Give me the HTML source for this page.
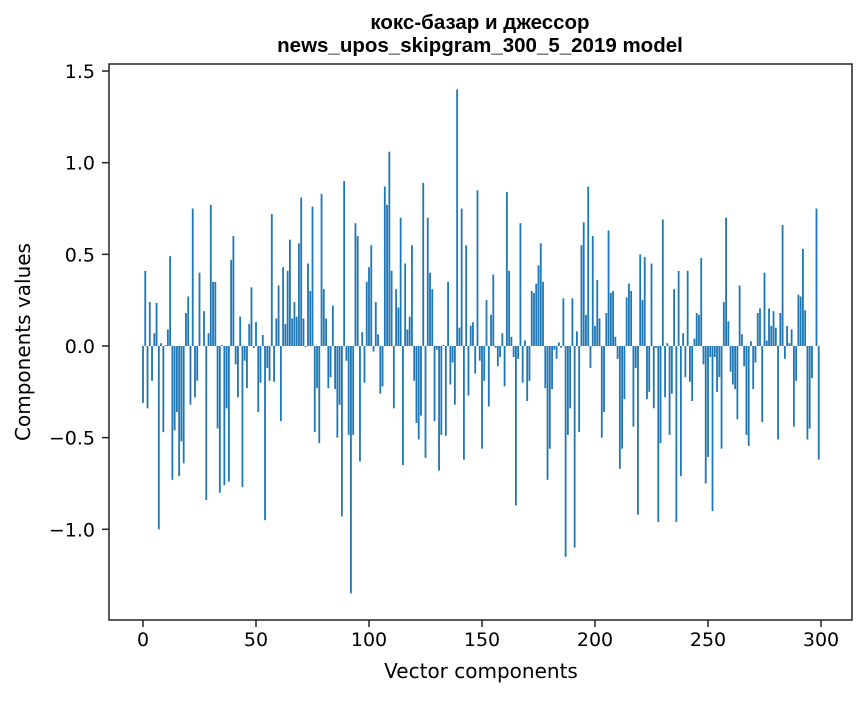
<!DOCTYPE html>
<html><head><meta charset="utf-8"><style>
body{margin:0;background:#fff;}
svg text{font-family:"DejaVu Sans","Liberation Sans",sans-serif;fill:#000;}
</style></head><body>
<svg id="chart" width="867" height="696" viewBox="0 0 867 696" xmlns="http://www.w3.org/2000/svg">
<rect width="867" height="696" fill="#fff"/>
<text x="480" y="29" font-size="20.5" font-weight="bold" text-anchor="middle" style="font-family:'Liberation Sans',sans-serif">кокс-базар и джессор</text>
<text x="480" y="52" font-size="20.5" font-weight="bold" text-anchor="middle" style="font-family:'Liberation Sans',sans-serif">news_upos_skipgram_300_5_2019 model</text>
<g id="bars"></g>
<g id="axes"></g>
<rect x="109" y="64" width="743" height="556" fill="none" stroke="#222" stroke-width="1.5"/>
<text x="481" y="678" font-size="20" text-anchor="middle">Vector components</text>
<text transform="translate(30,342) rotate(-90)" font-size="20" text-anchor="middle">Components values</text>
</svg>
<script>
const values = [
-0.31,0.41,-0.34,0.24,-0.19,0.07,0.235,-1.0,0.015,-0.47,
0.005,0.09,0.49,-0.73,-0.46,-0.36,-0.71,-0.52,-0.64,0.18,
0.27,-0.32,0.75,-0.28,-0.19,0.40,0,0.19,-0.84,0.07,
0.77,0.35,0.35,-0.45,-0.80,0.005,-0.76,-0.34,-0.74,0.47,
0.60,-0.10,-0.28,0.16,-0.77,-0.08,-0.23,0.12,0.32,-0.01,
0.13,-0.36,-0.20,0.06,-0.95,-0.12,-0.19,0.72,-0.195,0.15,
0.33,-0.41,0.43,0.12,0.41,0.58,0.15,0.24,0.16,0.56,
0.81,0.15,-0.005,0.45,0.30,0.76,-0.47,-0.23,-0.53,0.83,
0.31,0.15,-0.23,-0.17,0.22,-0.235,-0.50,-0.32,-0.93,0.90,
-0.08,-0.485,-1.35,-0.485,0.67,0.60,-0.63,0.075,-0.20,0.35,
0.43,0.55,-0.03,0.24,0.064,-0.26,-0.22,0.87,0.77,1.06,
0.41,-0.34,0.31,0.21,0.70,-0.65,0.45,0.09,0.16,0.55,
-0.19,-0.42,-0.51,-0.38,0.89,-0.61,0.70,0.40,0.31,-0.41,
-0.02,-0.68,-0.485,0.005,-0.49,0.35,-0.21,-0.09,-0.32,1.40,
0.10,0.75,-0.62,0.55,-0.27,0.11,0.13,-0.15,0.85,-0.08,
-0.56,-0.19,0.25,-0.33,0.17,0.39,-0.01,-0.11,-0.06,0.07,
-0.22,0.84,0.41,0.05,-0.06,-0.87,-0.07,0.67,-0.20,0.03,
-0.30,-0.19,0.30,0.29,0.34,0.44,0.56,0.35,-0.23,-0.73,
-0.56,-0.235,-0.02,-0.07,0.02,-0.01,0.26,-1.15,-0.485,-0.34,
0.26,-1.10,0.08,-0.47,0.55,0.675,0.17,0.87,-0.12,0.60,
0.11,0.36,0.15,-0.50,-0.36,0.18,0.63,0.29,0.30,0.05,
-0.07,-0.67,-0.56,-0.29,0.265,0.34,0.30,-0.44,-0.12,-0.92,
0.50,0.25,0.485,-0.29,-0.25,0.45,-0.34,-0.01,-0.96,-0.53,
0.69,-0.28,0.015,-0.485,-0.26,0.31,-0.96,0.41,-0.71,0.07,
-0.17,0.41,-0.195,-0.30,0.04,0.18,0.17,0.48,-0.10,-0.75,
-0.605,-0.06,-0.90,-0.06,-0.25,-0.17,-0.56,0.24,0.70,0.135,
-0.14,-0.21,-0.235,-0.40,0.33,0.064,-0.11,-0.485,-0.545,0.026,
-0.235,-0.09,0.18,0.205,-0.415,0.40,0.03,0.205,0.11,0.19,
0.10,-0.51,0.18,0.66,-0.07,0.11,0.015,0.09,-0.44,-0.19,
0.28,0.27,0.53,0.195,-0.51,-0.45,-0.175,0,0.75,-0.62
];
const xTicks = [0,50,100,150,200,250,300];
const yTicks = [-1.0,-0.5,0.0,0.5,1.0,1.5];
const yTickLabels = ["−1.0","−0.5","0.0","0.5","1.0","1.5"];

const NS="http://www.w3.org/2000/svg";
function xs(v){return 143+v*2.26;}
function ys(v){return 346-v*183.3;}
const bars=document.getElementById('bars');
values.forEach((v,i)=>{
  const r=document.createElementNS(NS,'rect');
  
  
  const x0=xs(i-0.4),x1=xs(i+0.4);
  const y0=ys(Math.max(v,0)),y1=ys(Math.min(v,0));
  r.setAttribute('x',x0);r.setAttribute('width',x1-x0);
  r.setAttribute('y',y0);r.setAttribute('height',Math.max(y1-y0,0));
  r.setAttribute('fill','#1f77b4');
  bars.appendChild(r);
});
const axes=document.getElementById('axes');
xTicks.forEach(t=>{
  const l=document.createElementNS(NS,'line');
  
  
  l.setAttribute('x1',xs(t));l.setAttribute('x2',xs(t));l.setAttribute('y1',620);l.setAttribute('y2',627);
  l.setAttribute('stroke','#222');l.setAttribute('stroke-width','1.5');axes.appendChild(l);
  const tx=document.createElementNS(NS,'text');
  
  
  tx.setAttribute('x',xs(t));tx.setAttribute('y',646);tx.setAttribute('font-size','19');tx.setAttribute('text-anchor','middle');
  tx.textContent=t;axes.appendChild(tx);
});
yTicks.forEach((t,k)=>{
  const l=document.createElementNS(NS,'line');
  
  
  l.setAttribute('x1',102);l.setAttribute('x2',109);l.setAttribute('y1',ys(t));l.setAttribute('y2',ys(t));
  l.setAttribute('stroke','#222');l.setAttribute('stroke-width','1.5');axes.appendChild(l);
  const tx=document.createElementNS(NS,'text');
  
  
  tx.setAttribute('x',95);tx.setAttribute('y',ys(t)+7);tx.setAttribute('font-size','19');tx.setAttribute('text-anchor','end');
  tx.textContent=yTickLabels[k];axes.appendChild(tx);
});
</script>
</body></html>
